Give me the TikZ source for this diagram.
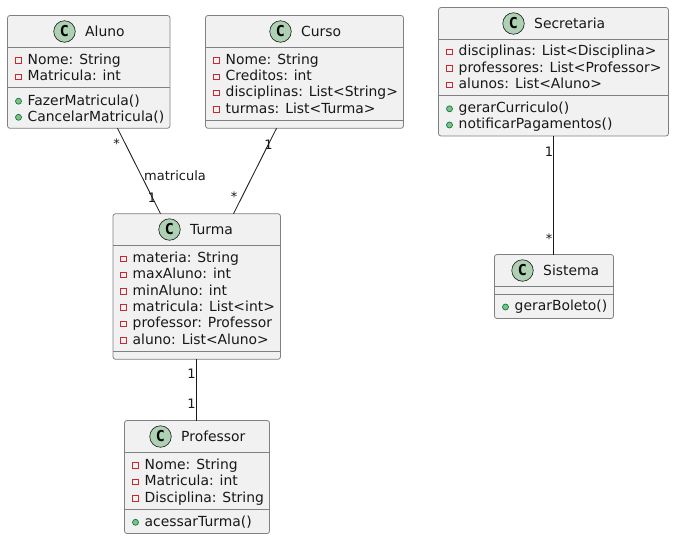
\documentclass[tikz,border=0pt]{standalone}
\usepackage{fontspec}
\setmainfont{DejaVu Sans}
\newfontfamily\spotfont{DejaVu Sans Mono}
\definecolor{boxfill}{HTML}{F1F1F1}
\definecolor{boxline}{HTML}{808080}
\definecolor{spot}{HTML}{ADD1B2}
\definecolor{privred}{HTML}{C82930}
\definecolor{pubgreen}{HTML}{84BE84}
\definecolor{publine}{HTML}{038048}
\definecolor{ink}{HTML}{181818}
\tikzset{
  x=1pt,y=-1pt,
  umlbox/.style={draw=boxline,fill=boxfill,line width=0.8pt,rounded corners=2.5pt,inner sep=0,outer sep=0,anchor=north west},
  divider/.style={draw=boxline,line width=0.8pt},
  spotc/.style={circle,draw=ink,fill=spot,line width=0.6pt,minimum size=21.5pt,inner sep=0,font=\fontsize{15}{15}\selectfont\spotfont\bfseries,text=black},
  title/.style={anchor=base west,inner sep=0,font=\fontsize{13.9}{14}\selectfont,text=ink},
  member/.style={anchor=base west,inner sep=0,font=\fontsize{13.9}{14}\selectfont,text=ink},
  privicon/.style={rectangle,draw=privred,line width=0.8pt,minimum size=5.5pt,inner sep=0},
  pubicon/.style={circle,draw=publine,fill=pubgreen,line width=0.7pt,minimum size=6pt,inner sep=0},
  assoc/.style={draw=ink,line width=0.85pt},
  mult/.style={inner sep=0,font=\fontsize{13}{13}\selectfont,text=ink},
}
% #1 name, #2 x0, #3 y0, #4 width, #5 height, #6 header line y, #7 separator y, #8 spot x, #9 title
\newcommand{\umlclass}[9]{%
  \node[umlbox,minimum width=#4pt,minimum height=#5pt] (#1) at (#2,#3) {};
  \draw[divider] (#2,#6) -- ({#2+#4},#6);
  \draw[divider] (#2,#7) -- ({#2+#4},#7);
  \node[spotc] (#1c) at (#8,{#6-16}) {C};
  \node[title] (#1t) at ({#8+20.5},{#6-11.3}) {#9};
}
% #1 name, #2 icon x, #3 icon y, #4 text
\newcommand{\priv}[4]{%
  \node[privicon] (#1i) at (#2,#3) {};
  \node[member] (#1) at ({#2+9},{#3+3.8}) {#4};
}
\newcommand{\pub}[4]{%
  \node[pubicon] (#1i) at (#2,#3) {};
  \node[member] (#1) at ({#2+9},{#3+3.8}) {#4};
}
\begin{document}
\begin{tikzpicture}
\useasboundingbox (0,0) rectangle (674,539);
\umlclass{aluno}{7.5}{15.5}{162.5}{112.8}{47.5}{87.5}{64.5}{Aluno}
\priv{a1}{18.5}{60.5}{Nome: String}
\priv{a2}{18.5}{77}{Matricula: int}
\pub{a3}{18.5}{101.2}{FazerMatricula()}
\pub{a4}{18.5}{117.3}{CancelarMatricula()}

\umlclass{curso}{205.5}{15.5}{198}{112.8}{47.5}{120.5}{280.5}{Curso}
\priv{c1}{216.5}{60.5}{Nome: String}
\priv{c2}{216.5}{76.8}{Creditos: int}
\priv{c3}{216.5}{93}{disciplinas: List<String>}
\priv{c4}{216.5}{109.3}{turmas: List<Turma>}

\umlclass{secretaria}{438.5}{7.5}{230}{128.5}{39.5}{95.5}{513.5}{Secretaria}
\priv{s1}{449.5}{52}{disciplinas: List<Disciplina>}
\priv{s2}{449.5}{68.3}{professores: List<Professor>}
\priv{s3}{449.5}{85}{alunos: List<Aluno>}
\pub{s4}{449.5}{108.8}{gerarCurriculo()}
\pub{s5}{449.5}{125}{notificarPagamentos()}

\umlclass{turma}{113}{213.7}{167.5}{145.6}{245.5}{351.5}{169.5}{Turma}
\priv{t1}{123.5}{258.8}{materia: String}
\priv{t2}{123.5}{275}{maxAluno: int}
\priv{t3}{123.5}{291.3}{minAluno: int}
\priv{t4}{123.5}{307.6}{matricula: List<int>}
\priv{t5}{123.5}{323.9}{professor: Professor}
\priv{t6}{123.5}{340.2}{aluno: List<Aluno>}

\umlclass{sistema}{494.5}{254.5}{119}{64}{286.5}{294.5}{522.5}{Sistema}
\pub{y1}{505.5}{307}{gerarBoleto()}

\umlclass{professor}{124.5}{420.5}{145}{113}{452.5}{509.5}{160.5}{Professor}
\priv{p1}{135.5}{465.3}{Nome: String}
\priv{p2}{135.5}{482}{Matricula: int}
\priv{p3}{135.5}{498.3}{Disciplina: String}
\pub{p4}{135.5}{522.3}{acessarTurma()}
\path (aluno.south west) ++(110,0) coordinate (aOut);
\path (turma.north west) ++(47.5,0) coordinate (tInA);
\path (curso.south west) ++(71,0) coordinate (cOut);
\path (turma.north west) ++(120.5,0) coordinate (tInC);
\path (turma.south west) ++(83.5,0) coordinate (tOut);
\path (professor.north west) ++(72,0) coordinate (pIn);
\path (secretaria.south west) ++(115,0) coordinate (sOut);
\path (sistema.north west) ++(59,0) coordinate (yIn);
\draw[assoc] (aOut) -- (tInA);
\draw[assoc] (cOut) -- (tInC);
\draw[assoc] (tOut) -- (pIn);
\draw[assoc] (sOut) -- (yIn);
\node[mult] (m1) at (116.5,144) {*};
\node[mult] (m2) at (152,197.5) {1};
\node[mult,anchor=west] (m3) at (144,176) {matricula};
\node[mult] (m4) at (268.5,144.5) {1};
\node[mult] (m5) at (234,197) {*};
\node[mult] (m6) at (191.5,374) {1};
\node[mult] (m7) at (191.5,404) {1};
\node[mult] (m8) at (549,151.5) {1};
\node[mult] (m9) at (549,239) {*};
\end{tikzpicture}
\end{document}
